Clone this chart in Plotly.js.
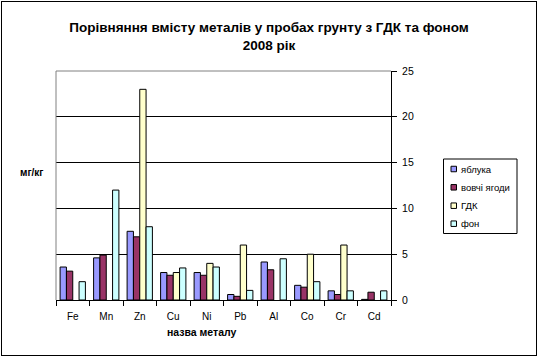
<!DOCTYPE html>
<html><head><meta charset="utf-8">
<script src="https://cdn.plot.ly/plotly-3.0.1.min.js"></script>
<style>
html,body{margin:0;padding:0;background:#fff;}
#frame{position:absolute;left:1px;top:1px;width:534px;height:353px;border:1px solid #000;}
#chart{position:absolute;left:0;top:0;width:538px;height:357px;}
</style></head>
<body>
<div id="chart"></div>
<div id="frame"></div>
<script>
const metals = ["Fe","Mn","Zn","Cu","Ni","Pb","Al","Co","Cr","Cd"];
const apples = [3.6, 4.6, 7.5, 3.0, 3.0, 0.6, 4.15, 1.6, 1.0, 0.07];
const wolfBerries = [3.15, 4.9, 6.9, 2.7, 2.7, 0.4, 3.3, 1.4, 0.6, 0.85];
const gdk = [null, null, 23.0, 3.0, 4.0, 6.0, null, 5.0, 6.0, null];
const background = [2.0, 12.0, 8.0, 3.5, 3.6, 1.05, 4.5, 2.0, 1.0, 1.0];
const seriesNames = ["яблука","вовчі ягоди","ГДК","фон"];
const colors = ["#9999FF","#993366","#FFFFCC","#CCFFFF"];
const yTicks = [0,5,10,15,20,25];

const data = [apples, wolfBerries, gdk, background].map((vals,i)=>({
  type:'bar', x:metals, y:vals, name:seriesNames[i],
  marker:{color:colors[i], line:{color:'#000', width:1}}
}));

const font = {family:'"Liberation Sans", Arial, sans-serif', color:'#000'};
// plot area in pixels: x 56..391, y 71..300
const PL = 56, PW = 335, PB = 300, PH = 229;
const px = v => (v - PL) / PW;
const py = v => (PB - v) / PH;

const shapes = [
  {type:'line', xref:'paper', yref:'paper', x0:0, x1:1, y0:1, y1:1, line:{color:'#808080', width:1}},
  {type:'line', xref:'paper', yref:'paper', x0:0, x1:0, y0:0, y1:1, line:{color:'#808080', width:1}},
  // legend box
  {type:'rect', xref:'paper', yref:'paper', x0:px(443.5), x1:px(517), y0:py(159), y1:py(233.5),
    line:{color:'#000', width:1}, fillcolor:'#fff', layer:'above'}
];
const annotations = [
  {text:'<b>мг/кг</b>', xref:'paper', yref:'paper', x:px(32), y:py(172), xanchor:'center', yanchor:'middle',
    showarrow:false, font:Object.assign({size:10}, font)},
  {text:'<b>назва металу</b>', xref:'paper', yref:'paper', x:px(202), y:py(332), xanchor:'center', yanchor:'middle',
    showarrow:false, font:Object.assign({size:10.5}, font)}
];
const itemY = [169, 187.3, 205.7, 223.7];
seriesNames.forEach((n,i)=>{
  shapes.push({type:'rect', xref:'paper', yref:'paper', x0:px(451), x1:px(456.5),
    y0:py(itemY[i]+2.75), y1:py(itemY[i]-2.75), line:{color:'#000', width:1}, fillcolor:colors[i], layer:'above'});
  annotations.push({text:n, xref:'paper', yref:'paper', x:px(458.5), y:py(itemY[i]), xanchor:'left', yanchor:'middle',
    showarrow:false, font:Object.assign({size:9.5}, font)});
});

const layout = {
  width:538, height:357,
  margin:{l:56, r:147, t:71, b:57},
  paper_bgcolor:'rgba(0,0,0,0)', plot_bgcolor:'#fff',
  font:Object.assign({size:10}, font),
  showlegend:false,
  barmode:'group', bargap:0.245, bargroupgap:0,
  title:{text:'<b>Порівняння вмісту металів у пробах грунту з ГДК та фоном<br>2008 рік</b>',
    font:Object.assign({size:13.5}, font), x:0.5, xanchor:'center', y:0.91, yanchor:'top'},
  xaxis:{type:'category', showline:true, linecolor:'#000', linewidth:1,
    ticks:'outside', ticklen:5, tickcolor:'#000', tickson:'boundaries', ticklabelstandoff:7,
    tickfont:Object.assign({size:10}, font), showgrid:false, zeroline:false, automargin:false},
  yaxis:{side:'right', range:[0,25], tickvals:yTicks, ticktext:yTicks.map(String),
    showline:true, linecolor:'#000', linewidth:1, ticks:'outside', ticklen:5, ticklabelstandoff:3,
    tickcolor:'#000', showgrid:true, gridcolor:'#000', gridwidth:1, zeroline:false, automargin:false,
    tickfont:Object.assign({size:10.5}, font)},
  shapes:shapes,
  annotations:annotations
};
Plotly.newPlot('chart', data, layout, {displayModeBar:false, staticPlot:true});
</script>
</body></html>
